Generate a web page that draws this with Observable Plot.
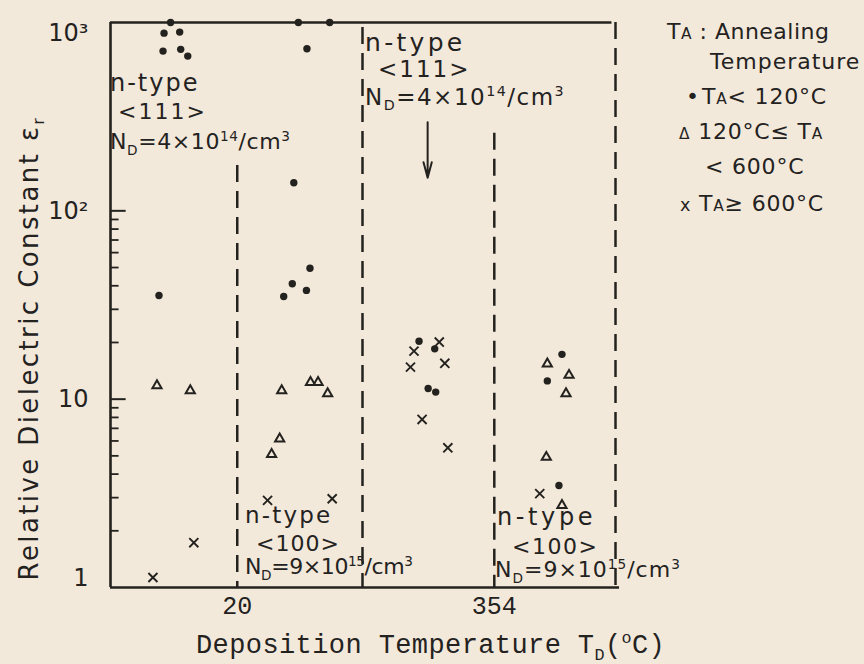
<!DOCTYPE html>
<html><head><meta charset="utf-8">
<script src="https://cdn.jsdelivr.net/npm/d3@7"></script>
<script src="https://cdn.jsdelivr.net/npm/@observablehq/plot@0.6"></script>
<style>
body{margin:0;background:#f2e9da;}
#wrap{position:relative;width:864px;height:664px;overflow:hidden;background:#f2e9da;}
#wrap svg{position:absolute;left:0;top:0;}
.t{position:absolute;white-space:nowrap;line-height:0.8;color:#24221f;font-family:"DejaVu Sans",sans-serif;font-size:22px;transform:translateY(-50%);}
.t sub,.t sup{font-size:0.62em;line-height:0;}
</style></head><body><div id="wrap"></div>
<script>
// ---- data (x: relative position within the deposition-temperature panel, y: relative dielectric constant)
const dotX = [11.9, 10.6, 13.7, 10.4, 13.9, 15.3, 9.6, 37.2, 43.4, 38.9, 36.3, 39.5, 36.0, 38.8, 34.3, 61.1, 64.2, 62.9, 64.4, 89.4, 86.5, 88.8];
const dotY = [1000, 878, 889, 705, 720, 663, 35.5, 1000, 1000, 726, 141, 49.6, 41.0, 37.8, 35.1, 20.3, 18.5, 11.4, 10.9, 17.3, 12.5, 3.48];
const triX = [9.2, 15.8, 33.9, 39.6, 41.1, 43.0, 33.5, 31.9, 86.5, 90.8, 90.2, 86.3, 89.4];
const triY = [11.8, 11.1, 11.1, 12.3, 12.3, 10.7, 6.16, 5.09, 15.4, 13.4, 10.7, 4.92, 2.73];
const crossX = [16.5, 8.4, 31.1, 43.9, 60.1, 65.1, 59.4, 66.2, 61.7, 66.8, 85.0];
const crossY = [1.73, 1.13, 2.90, 2.96, 18.0, 20.1, 14.8, 15.5, 7.80, 5.52, 3.15];
const yTickValues = [1, 10, 100, 1000];
const yTickLabels = ["1", "10", "10²", "10³"];
const yMajorTicks = [10, 100];
const yMinorTicks = [2, 3, 4, 5, 6, 7, 8, 9, 20, 30, 40, 50, 60, 70, 80, 90];
const xTickValues = [25.1, 76.0];
const xTickLabels = ["20", "354"];
const dividerX = [25.1, 49.9, 76.0, 100];
const dividerTop = [174, 940, 258, 1000];
const arrowX = [62.8];
const arrowFrom = [295];
const arrowTo = [150];

const ink = "#24221f";
const pts = (xs, ys) => xs.map((x, i) => ({x, y: ys[i]}));
const dividers = dividerX.map((x, i) => ({x, top: dividerTop[i]}));
const labelOf = v => yTickLabels[yTickValues.indexOf(v)];
const xLabelOf = v => xTickLabels[xTickValues.indexOf(v)];

const plot = Plot.plot({
  width: 864, height: 664,
  marginLeft: 110, marginRight: 249, marginTop: 22, marginBottom: 77,
  style: {background: "transparent", color: ink, fontFamily: "DejaVu Sans"},
  x: {domain: [0, 100], axis: null},
  y: {type: "log", domain: [1, 1000], axis: null},
  marks: [
    Plot.ruleX([0], {y1: 1, y2: 1000, stroke: ink, strokeWidth: 2.6}),
    Plot.ruleY([1000], {x1: 0, x2: 99.3, stroke: ink, strokeWidth: 2.4}),
    Plot.ruleY([1], {x1: 0, x2: 100.8, stroke: ink, strokeWidth: 2.6}),
    Plot.ruleX(dividers, {x: "x", y1: "top", y2: 1, stroke: ink, strokeWidth: 2.5, strokeDasharray: "17,9"}),
    Plot.ruleY(yMajorTicks, {x1: 0, x2: 3.1, stroke: ink, strokeWidth: 2}),
    Plot.ruleY(yMinorTicks, {x1: 0, x2: 1.7, stroke: ink, strokeWidth: 1.8}),
    Plot.dot(pts(dotX, dotY), {x: "x", y: "y", r: 3.7, fill: ink, stroke: "none"}),
    Plot.dot(pts(triX, triY), {x: "x", y: "y", symbol: "triangle", r: 3.4, fill: "none", stroke: ink, strokeWidth: 2}),
    Plot.dot(pts(crossX, crossY), {x: "x", y: "y", symbol: "times", r: 4.2, stroke: ink, strokeWidth: 1.9}),
    Plot.arrow(arrowX.map((x, i) => ({x, a: arrowFrom[i], b: arrowTo[i]})), {x1: "x", x2: "x", y1: "a", y2: "b", stroke: ink, strokeWidth: 2, headLength: 12, headAngle: 30}),
    Plot.text([1000], {x: 0, y: d => d, text: labelOf, dx: -22, dy: 11, textAnchor: "end", fontSize: 24, fill: ink}),
    Plot.text([10, 100], {x: 0, y: d => d, text: labelOf, dx: -22, textAnchor: "end", fontSize: 24, fill: ink}),
    Plot.text([1], {x: 0, y: d => d, text: labelOf, dx: -22, dy: -9, textAnchor: "end", fontSize: 24, fill: ink}),
    Plot.text(xTickValues, {x: d => d, y: 1, text: xLabelOf, dy: 18, fontSize: 25, fontFamily: "Liberation Mono", fill: ink})
  ]
});
const wrap = document.getElementById("wrap");
wrap.appendChild(plot);

function addText(html, left, cy, extra) {
  const d = document.createElement("div");
  d.className = "t";
  d.innerHTML = html;
  d.style.left = left + "px";
  d.style.top = cy + "px";
  if (extra) Object.assign(d.style, extra);
  wrap.appendChild(d);
  return d;
}
const N4 = "N<sub>D</sub>=4×10<sup>14</sup>/cm<sup>3</sup>";
const N9 = "N<sub>D</sub>=9×10<sup>15</sup>/cm<sup>3</sup>";
// region annotations
addText("n-type", 110, 84, {letterSpacing: "2px", fontSize: "24px"});
addText("&lt;111&gt;", 118, 112, {letterSpacing: "2px"});
addText(N4, 110, 142, {letterSpacing: "0.6px"});
addText("n-type", 365, 43, {letterSpacing: "3.3px", fontSize: "25px"});
addText("&lt;111&gt;", 378, 69, {letterSpacing: "2px", fontSize: "23px"});
addText(N4, 365, 97, {letterSpacing: "1.5px", fontSize: "23px"});
addText("n-type", 245, 515, {letterSpacing: "2.2px", fontSize: "23px"});
addText("&lt;100&gt;", 256, 544, {letterSpacing: "1px"});
addText(N9, 245, 567, {letterSpacing: "-0.4px"});
addText("n-type", 497, 518, {letterSpacing: "3.6px", fontSize: "24px"});
addText("&lt;100&gt;", 512, 547, {letterSpacing: "1.5px"});
addText(N9, 495, 570, {letterSpacing: "1px"});
// legend
const TA = "T<span style='font-size:0.7em'>A</span>";
addText(TA + " : Annealing", 667, 32, {letterSpacing: "0.5px"});
addText("Temperature", 710, 62, {letterSpacing: "1px"});
addText("•", 686, 97);
addText(TA + "&lt; 120°C", 702, 97, {letterSpacing: "0.8px"});
addText("<span style='font-size:0.7em'>Δ</span> 120°C≤ " + TA, 679, 132, {letterSpacing: "0.8px"});
addText("&lt; 600°C", 705, 167, {letterSpacing: "0.8px"});
addText("<span style='font-size:0.8em'>x</span> " + TA + "≥ 600°C", 680, 204, {letterSpacing: "0.8px"});
// axis titles
addText("Deposition Temperature T<sub>D</sub>(<sup>o</sup>C)", 196, 647, {fontFamily: "Liberation Mono", fontSize: "27px", letterSpacing: "0.4px"});
const yt = addText("Relative Dielectric Constant ε<sub>r</sub>", 29, 348, {fontSize: "26px", letterSpacing: "2.4px"});
yt.style.transform = "translate(-50%,-50%) rotate(-90deg)";
</script></body></html>
